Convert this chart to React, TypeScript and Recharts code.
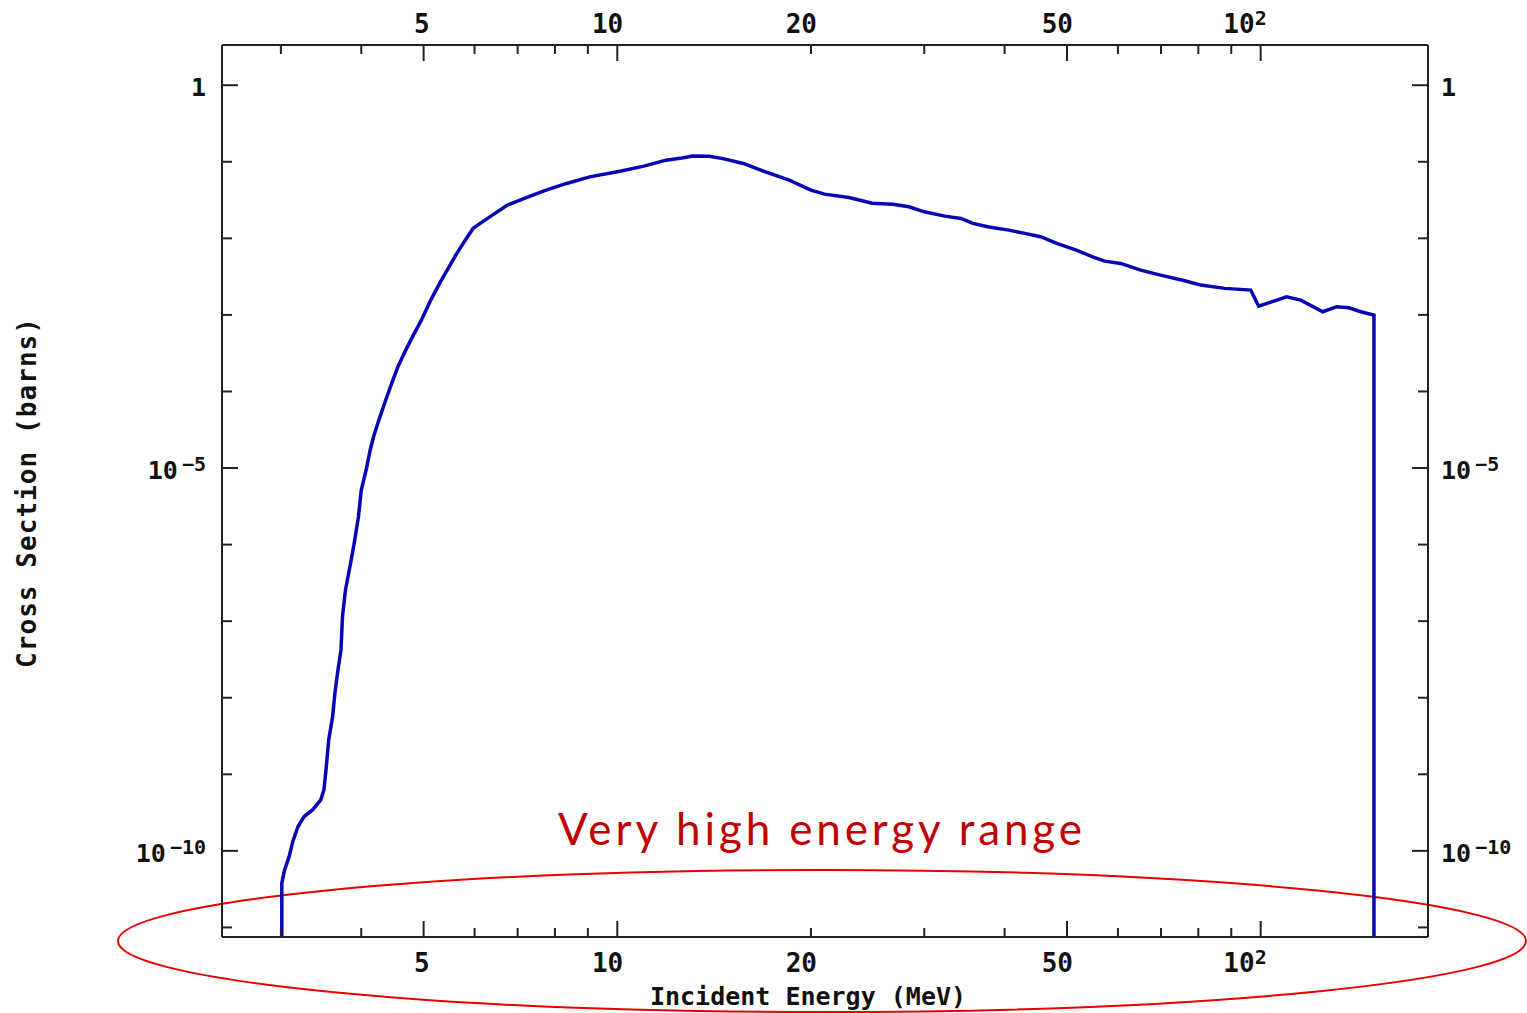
import React from 'react';
import { LineChart, Line, XAxis, YAxis, Customized } from 'recharts';

// incident energy (MeV)
const energy = [
  3.01, 3.01, 3.04, 3.09, 3.13, 3.19, 3.26, 3.36, 3.46, 3.5, 3.53, 3.56, 3.61, 3.64, 3.68, 3.72,
  3.74, 3.78, 3.85, 3.9, 3.96, 4.0, 4.07, 4.13, 4.18, 4.26, 4.35, 4.44, 4.56, 4.69, 4.82, 4.96,
  5.13, 5.31, 5.46, 5.61, 5.76, 5.97, 6.17, 6.43, 6.74, 7.17, 7.69, 8.34, 9.06, 10.1, 11.0, 11.9,
  12.6, 13.1, 13.9, 14.6, 15.7, 17.0, 18.5, 20.0, 21.0, 22.9, 24.9, 26.8, 28.4, 30.0, 32.3, 34.2,
  35.7, 37.8, 40.6, 43.0, 45.5, 48.2, 51.7, 54.8, 57.2, 60.6, 65.1, 69.9, 76.2, 80.7, 87.9, 96.5,
  99.3, 103.7, 109.7, 115.4, 124.9, 131.3, 137.1, 143.1, 150, 150,
];

// cross section (barns)
const crossSection = [
  1e-12, 3.8e-11, 5.65e-11, 8.4e-11, 1.32e-10, 2.08e-10, 2.81e-10, 3.43e-10, 4.63e-10, 6.26e-10,
  1.26e-9, 2.81e-9, 5.66e-9, 1.15e-8, 2.31e-8, 4.21e-8, 1.15e-7, 2.55e-7, 5.7e-7, 1.04e-6, 2.31e-6,
  5.16e-6, 9.42e-6, 1.72e-5, 2.56e-5, 4.23e-5, 7.06e-5, 1.15e-4, 2.1e-4, 3.47e-4, 5.45e-4, 8.55e-4,
  1.56e-3, 2.7e-3, 4.05e-3, 6.04e-3, 8.58e-3, 1.35e-2, 1.64e-2, 2.07e-2, 2.71e-2, 3.32e-2, 4.17e-2,
  5.21e-2, 6.35e-2, 7.54e-2, 8.76e-2, 0.105, 0.112, 0.119, 0.118, 0.11, 0.095, 0.0738, 0.0575,
  0.0426, 0.0378, 0.0342, 0.0288, 0.0279, 0.0258, 0.0222, 0.0195, 0.0182, 0.0157, 0.0141, 0.0128,
  0.0116, 0.0105, 8.58e-3, 7.02e-3, 5.73e-3, 5.04e-3, 4.7e-3, 3.85e-3, 3.31e-3, 2.79e-3, 2.45e-3,
  2.22e-3, 2.11e-3, 1.3e-3, 1.47e-3, 1.72e-3, 1.56e-3, 1.1e-3, 1.28e-3, 1.24e-3, 1.1e-3, 9.94e-4,
  1e-12,
];

const xTicks = [3, 4, 5, 6, 7, 8, 9, 10, 20, 30, 40, 50, 60, 70, 80, 90, 100];
const xLongTicks = [5, 10, 50, 100];
const xTickLabels: Record<number, [string, string]> = {
  5: ['5', ''],
  10: ['10', ''],
  20: ['20', ''],
  50: ['50', ''],
  100: ['10', '2'],
};

const yTicks = [1e-11, 1e-10, 1e-9, 1e-8, 1e-7, 1e-6, 1e-5, 1e-4, 1e-3, 1e-2, 1e-1, 1];
const yTickLabels: Record<number, [string, string]> = {
  0: ['1', ''],
  [-5]: ['10', '\u22125'],
  [-10]: ['10', '\u221210'],
};

const data = energy.map((e, i) => ({ e, xs: crossSection[i] }));

const AXIS = '#222';
const MONO = '"DejaVu Sans Mono", "Liberation Mono", monospace';

const TopTick = (props: any) => {
  const { x, y, payload } = props;
  const len = xLongTicks.includes(payload.value) ? 16 : 9;
  const lab = xTickLabels[payload.value];
  return (
    <g>
      <line x1={x} y1={y} x2={x} y2={y + len} stroke={AXIS} strokeWidth={2} />
      {lab && (
        <text x={x + 6} y={y - 12} textAnchor="end" fontFamily={MONO} fontWeight="bold" fontSize={26} fill="#111">
          {lab[0]}
          {lab[1] && <tspan dy={-8} fontSize={20}>{lab[1]}</tspan>}
        </text>
      )}
    </g>
  );
};

const BottomTick = (props: any) => {
  const { x, y, payload } = props;
  const len = xLongTicks.includes(payload.value) ? 16 : 9;
  const lab = xTickLabels[payload.value];
  return (
    <g>
      <line x1={x} y1={y} x2={x} y2={y - len} stroke={AXIS} strokeWidth={2} />
      {lab && (
        <text x={x + 6} y={y + 35} textAnchor="end" fontFamily={MONO} fontWeight="bold" fontSize={26} fill="#111">
          {lab[0]}
          {lab[1] && <tspan dy={-8} fontSize={20}>{lab[1]}</tspan>}
        </text>
      )}
    </g>
  );
};

const makeYTick = (side: 'left' | 'right') => (props: any) => {
  const { x, y, payload } = props;
  const exp = Math.round(Math.log10(payload.value));
  const major = exp % 5 === 0;
  const len = major ? 16 : 10;
  const lab = yTickLabels[exp];
  const dir = side === 'left' ? 1 : -1;
  return (
    <g>
      <line x1={x} y1={y} x2={x + dir * len} y2={y} stroke={AXIS} strokeWidth={2} />
      {lab && (
        <text
          x={side === 'left' ? x - 16 : x + 13}
          y={y + 11}
          textAnchor={side === 'left' ? 'end' : 'start'}
          fontFamily={MONO}
          fontWeight="bold"
          fontSize={25}
          fill="#111"
        >
          {lab[0]}
          {lab[1] && (
            <tspan dx={4} dy={-8} fontSize={20}>
              {lab[1]}
            </tspan>
          )}
        </text>
      )}
    </g>
  );
};

const XTitle = (props: any) => {
  const vb = props.viewBox || { x: 222, y: 937, width: 1206, height: 76 };
  return (
    <text x={vb.x + vb.width / 2 - 17} y={vb.y + 68} textAnchor="middle" fontFamily={MONO} fontWeight="bold" fontSize={25} fill="#111">
      Incident Energy (MeV)
    </text>
  );
};

const YTitle = (props: any) => {
  const vb = props.viewBox || { x: 0, y: 45, width: 222, height: 892 };
  const cx = vb.x + 27;
  const cy = vb.y + vb.height / 2 + 2;
  return (
    <text
      x={cx}
      y={cy}
      transform={`rotate(-90 ${cx} ${cy})`}
      textAnchor="middle"
      dominantBaseline="central"
      fontFamily={MONO}
      fontWeight="bold"
      fontSize={26}
      textLength={350}
      fill="#111"
    >
      Cross Section (barns)
    </text>
  );
};

// red highlight drawn on top of the chart
const Annotation = () => (
  <g>
    <text x={820} y={845} textAnchor="middle" fontFamily="Lato, 'Open Sans', sans-serif" fontSize={44} fill="#c00000" textLength={524}>
      Very high energy range
    </text>
    <ellipse cx={822} cy={941} rx={704} ry={71} fill="none" stroke="#e60000" strokeWidth={2} />
  </g>
);

export default function App() {
  return (
    <div style={{ position: 'absolute', left: 0, top: 0, width: 1527, height: 1013, background: '#fff' }}>
      <LineChart width={1527} height={1013} data={data} margin={{ top: 0, right: 0, bottom: 0, left: 0 }}>
        <XAxis
          xAxisId="bottom"
          orientation="bottom"
          dataKey="e"
          type="number"
          scale="log"
          domain={[2.43, 182]}
          allowDataOverflow
          ticks={xTicks}
          interval={0}
          height={76}
          tickSize={0}
          tickMargin={0}
          tickLine={false}
          axisLine={{ stroke: AXIS, strokeWidth: 2 }}
          tick={BottomTick}
          label={{ content: XTitle }}
        />
        <XAxis
          xAxisId="top"
          orientation="top"
          dataKey="e"
          type="number"
          scale="log"
          domain={[2.43, 182]}
          allowDataOverflow
          ticks={xTicks}
          interval={0}
          height={45}
          tickSize={0}
          tickMargin={0}
          tickLine={false}
          axisLine={{ stroke: AXIS, strokeWidth: 2 }}
          tick={TopTick}
        />
        <YAxis
          yAxisId="left"
          orientation="left"
          type="number"
          scale="log"
          domain={[7.5e-12, 3.35]}
          allowDataOverflow
          ticks={yTicks}
          interval={0}
          width={222}
          tickSize={0}
          tickMargin={0}
          tickLine={false}
          axisLine={{ stroke: AXIS, strokeWidth: 2 }}
          tick={makeYTick('left')}
          label={{ content: YTitle }}
        />
        <YAxis
          yAxisId="right"
          orientation="right"
          type="number"
          scale="log"
          domain={[7.5e-12, 3.35]}
          allowDataOverflow
          ticks={yTicks}
          interval={0}
          width={99}
          tickSize={0}
          tickMargin={0}
          tickLine={false}
          axisLine={{ stroke: AXIS, strokeWidth: 2 }}
          tick={makeYTick('right')}
        />
        <Line
          xAxisId="bottom"
          yAxisId="left"
          dataKey="xs"
          type="linear"
          stroke="#0606b4"
          strokeWidth={3.5}
          dot={false}
          activeDot={false}
          isAnimationActive={false}
        />
        <Customized component={Annotation} />
      </LineChart>
    </div>
  );
}
